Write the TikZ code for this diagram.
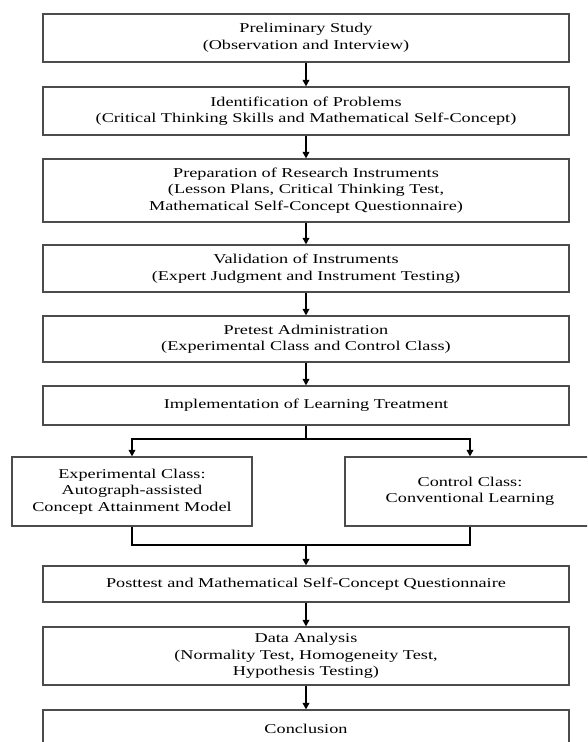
\documentclass[tikz,border=0pt]{standalone}
\usepackage{fontspec}
\setmainfont{Liberation Serif}[FakeStretch=1.35]
\usetikzlibrary{arrows.meta}
\tikzset{
  box/.style={draw=black!70, line width=1.1pt, fill=white, inner sep=0pt, align=center,
    font=\fontsize{13.5}{16.5}\selectfont, text=black},
  mainbox/.style={box, minimum width=526pt},
  sidebox/.style={box, minimum width=240pt, minimum height=69pt},
  flow/.style={line width=1.8pt, -{Triangle[length=6.5pt,width=6.5pt]}},
  joint/.style={line width=1.8pt}
}
\begin{document}
\begin{tikzpicture}[x=1pt,y=-1pt]
\useasboundingbox (0,0) rectangle (587,742);
\fill[white] (0,0) rectangle (587,742);
\clip (0,0) rectangle (587,742);

\node[mainbox, minimum height=48pt] (prelim) at (306,38) {Preliminary Study\\(Observation and Interview)};
\node[mainbox, minimum height=48pt] (ident) at (306,111) {Identification of Problems\\(Critical Thinking Skills and Mathematical Self-Concept)};
\node[mainbox, minimum height=63pt] (prep) at (306,190.5) {Preparation of Research Instruments\\(Lesson Plans, Critical Thinking Test,\\Mathematical Self-Concept Questionnaire)};
\node[mainbox, minimum height=47pt] (valid) at (306,268.5) {Validation of Instruments\\(Expert Judgment and Instrument Testing)};
\node[mainbox, minimum height=46pt] (pretest) at (306,339) {Pretest Administration\\(Experimental Class and Control Class)};
\node[mainbox, minimum height=39pt] (impl) at (306,405.5) {Implementation of Learning Treatment};
\node[sidebox] (exper) at (132,491.5) {Experimental Class:\\Autograph-assisted\\Concept Attainment Model};
\node[sidebox, minimum width=250pt] (control) at (470,491.5) {Control Class:\\Conventional Learning};
\node[mainbox, minimum height=36pt] (post) at (306,584) {Posttest and Mathematical Self-Concept Questionnaire};
\node[mainbox, minimum height=58pt] (data) at (306,656) {Data Analysis\\(Normality Test, Homogeneity Test,\\Hypothesis Testing)};
\node[mainbox, minimum height=38pt] (concl) at (306,729) {Conclusion};

\coordinate (split) at (306,439);
\coordinate (merge) at (306,545);

\draw[flow] (prelim) -- (ident);
\draw[flow] (ident) -- (prep);
\draw[flow] (prep) -- (valid);
\draw[flow] (valid) -- (pretest);
\draw[flow] (pretest) -- (impl);
\draw[joint] (impl.south) -- (split);
\draw[flow] (split) -| (exper.north);
\draw[flow] (split) -| (control.north);
\draw[joint] (exper.south) |- (merge);
\draw[joint] (control.south) |- (merge);
\draw[flow] (merge) -- (post);
\draw[flow] (post) -- (data);
\draw[flow] (data) -- (concl);
\end{tikzpicture}
\end{document}
